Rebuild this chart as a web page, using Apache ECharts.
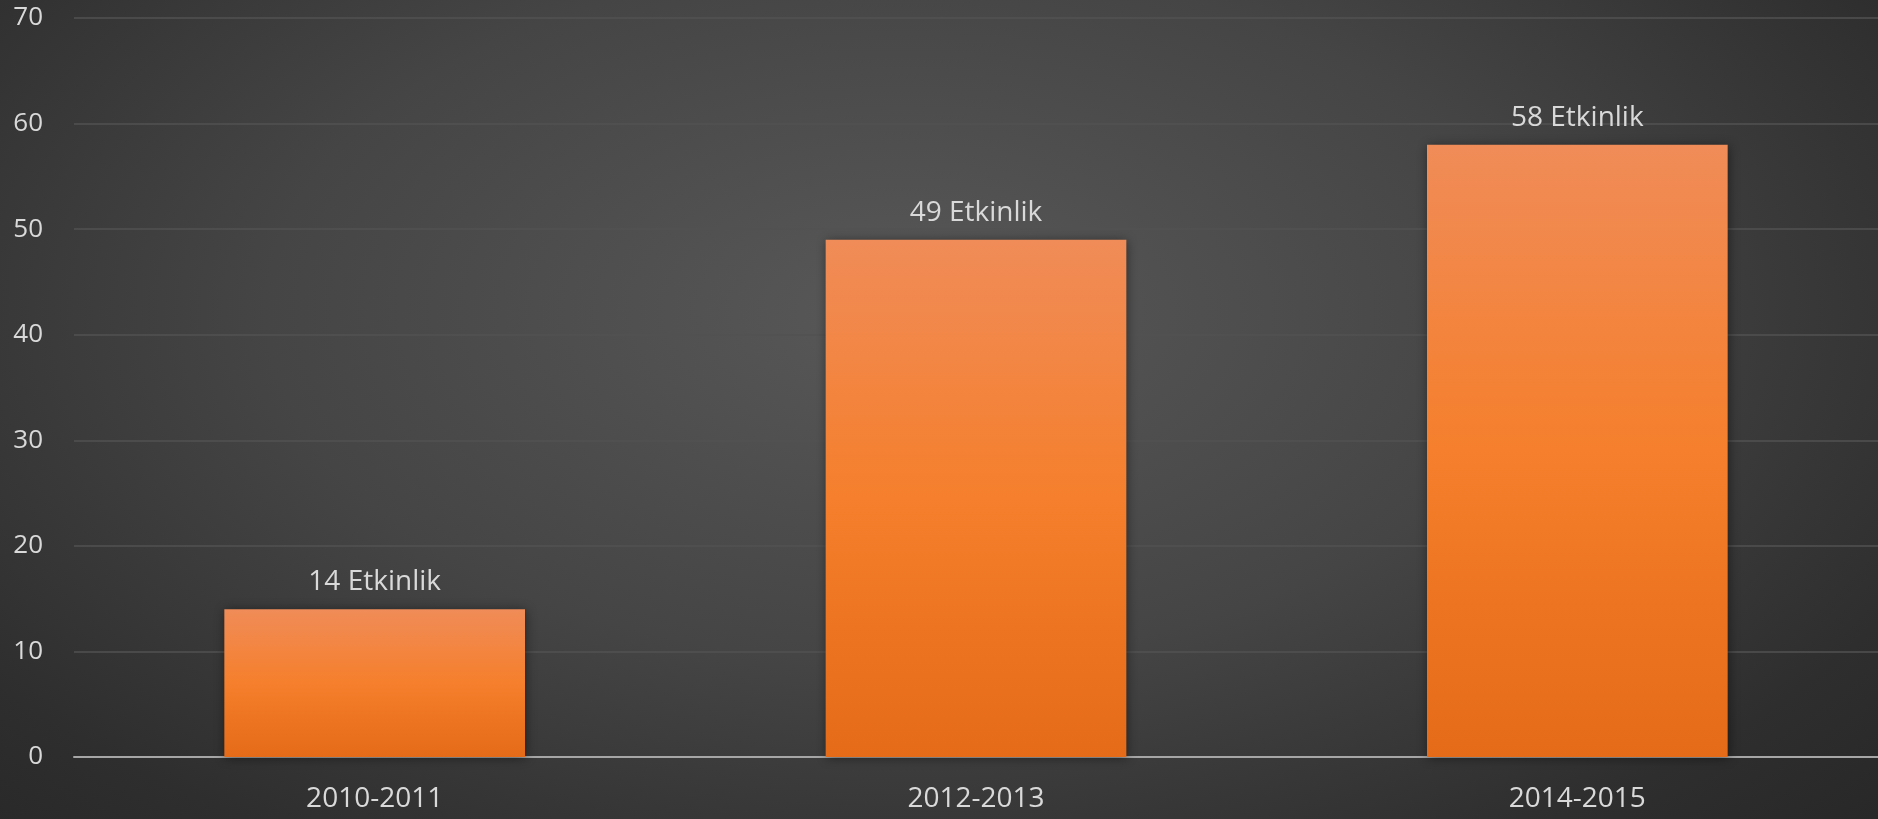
<!DOCTYPE html>
<html>
<head>
<meta charset="utf-8">
<script src="https://cdn.jsdelivr.net/npm/echarts@6/dist/echarts.min.js"></script>
<style>
html,body{margin:0;padding:0;width:1878px;height:819px;overflow:hidden;}
#chart{width:1878px;height:819px;background:radial-gradient(ellipse 75% 95% at 48% 38%, #585858 0%, #454545 45%, #2e2e2e 80%, #262626 100%);}
</style>
</head>
<body>
<div id="chart"></div>
<script>
const categories = ['2010-2011', '2012-2013', '2014-2015'];
const values = [14, 49, 58];
const labelSuffix = ' Etkinlik';
const yTicks = [0, 10, 20, 30, 40, 50, 60, 70];

const chart = echarts.init(document.getElementById('chart'), null, {renderer: 'canvas'});
chart.setOption({
  backgroundColor: 'transparent',
  animation: false,
  grid: {left: 74, right: -6, top: 18, bottom: 62, containLabel: false},
  xAxis: {
    type: 'category',
    data: categories,
    axisLine: {lineStyle: {color: '#a6a6a6', width: 2}},
    axisTick: {show: false},
    axisLabel: {color: '#d9d9d9', fontSize: 28, fontFamily: 'Open Sans', margin: 28}
  },
  yAxis: {
    type: 'value',
    min: yTicks[0],
    max: yTicks[yTicks.length - 1],
    interval: 10,
    axisLine: {show: false},
    axisTick: {show: false},
    splitLine: {lineStyle: {color: '#525252', width: 1.5}},
    axisLabel: {color: '#d9d9d9', fontSize: 26, fontFamily: 'Open Sans', margin: 31}
  },
  series: [{
    type: 'bar',
    data: values,
    barWidth: '50%',
    itemStyle: {
      color: new echarts.graphic.LinearGradient(0, 0, 0, 1, [
        {offset: 0, color: '#f08c58'},
        {offset: 0.5, color: '#f57f2c'},
        {offset: 1, color: '#e56b18'}
      ]),
      shadowBlur: 10,
      shadowColor: 'rgba(0,0,0,0.45)',
      shadowOffsetX: 1,
      shadowOffsetY: 1
    },
    label: {
      show: true,
      position: 'top',
      distance: 13,
      color: '#d9d9d9',
      fontSize: 28,
      fontFamily: 'Open Sans',
      formatter: p => p.value + labelSuffix
    }
  }]
});
</script>
</body>
</html>
